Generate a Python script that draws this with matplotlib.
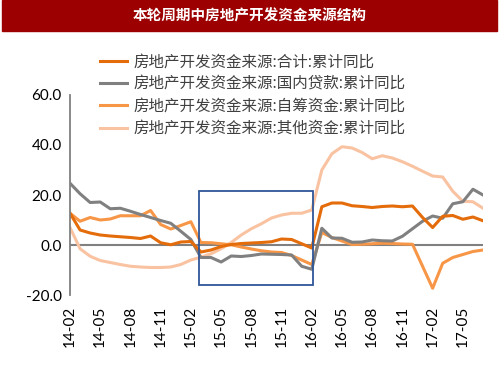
import matplotlib
matplotlib.use("Agg")
import matplotlib.pyplot as plt
from matplotlib.patches import Rectangle
import numpy as np

plt.rcParams['font.family'] = ['Noto Sans CJK SC', 'DejaVu Sans']

# months 14-02 .. 17-07
months = ['%02d-%02d' % (14 + (m + 1) // 12, (m + 1) % 12 + 1) for m in range(42)]

total = [12.7, 6.0, 4.8, 4.0, 3.6, 3.3, 3.0, 2.6, 3.6, 0.9, 0.1, 1.2, 1.4, -2.8,
         -2.0, -0.6, 0.2, 0.6, 0.8, 1.0, 1.3, 2.4, 2.2, 0.5, -1.2, 15.3, 16.8, 16.8,
         15.7, 15.4, 15.0, 15.4, 15.6, 15.3, 15.6, 11.0, 7.0, 11.5, 11.8, 10.3, 11.2, 9.7]
loans = [24.7, 20.5, 17.0, 17.2, 14.5, 14.7, 13.5, 12.2, 11.0, 9.8, 8.7, 5.5, 2.2, -5.0,
         -5.0, -6.8, -4.4, -4.6, -4.2, -3.6, -3.7, -3.8, -4.0, -8.5, -9.7, 6.7, 2.8, 2.7,
         1.1, 1.2, 2.0, 1.7, 1.6, 3.5, 6.5, 9.5, 11.6, 10.7, 16.5, 17.3, 22.3, 20.0]
self_raised = [12.7, 9.5, 11.0, 10.0, 10.4, 11.7, 11.7, 11.7, 13.8, 8.2, 6.4, 7.8, 9.3, 1.0,
               0.9, 0.5, 0.1, -0.8, -1.6, -2.3, -2.8, -3.0, -4.2, -6.0, -7.8, 5.0, 3.0, 1.6,
               0.2, 0.3, 0.5, 0.7, 0.6, 0.4, 0.3, -8.5, -17.3, -7.3, -5.0, -3.8, -2.6, -2.0]
other = [7.0, -1.5, -4.5, -6.2, -7.0, -7.8, -8.5, -8.8, -9.0, -9.0, -8.8, -7.8, -6.0, -4.9,
         -3.5, -1.5, 1.0, 4.0, 6.5, 8.5, 10.8, 12.0, 12.7, 12.7, 14.0, 30.0, 36.5, 39.3,
         38.8, 37.0, 34.5, 35.7, 34.8, 33.3, 31.5, 29.5, 27.6, 27.2, 21.5, 17.5, 17.3, 14.7]

labels = ['房地产开发资金来源:合计:累计同比',
          '房地产开发资金来源:国内贷款:累计同比',
          '房地产开发资金来源:自筹资金:累计同比',
          '房地产开发资金来源:其他资金:累计同比']
colors = ['#E46C0A', '#808080', '#F79646', '#F9C3A2']

fig = plt.figure(figsize=(5, 3.75), dpi=100)
ax = fig.add_axes([0.14, 0.2133, 0.826, 0.5334])

x = np.arange(len(months))
series = [total, loans, self_raised, other]
# draw back to front: other, self, loans, total on top
handles = [None] * 4
for k in [3, 2, 1, 0]:
    ln, = ax.plot(x, series[k], color=colors[k], lw=2.2, label=labels[k])
    handles[k] = ln

ax.axhline(0, color='#808080', lw=1.5, zorder=1)
ax.add_patch(Rectangle((12.8, -16), 11.3, 37.7, fill=False, ec='#2F5597', lw=1.3,
                       clip_on=False, zorder=5))

ax.set_xlim(0, 41)
ax.set_ylim(-20, 60)
ax.set_yticks([-20, 0, 20, 40, 60])
ax.set_yticklabels(['%.1f' % v for v in [-20, 0, 20, 40, 60]], family='Lato', fontsize=11)
ax.set_xticks(x[::3])
ax.set_xticklabels(months[::3], rotation=90, family='Lato', fontsize=11)
ax.tick_params(length=0, pad=6)
ax.tick_params(axis='x', pad=8)
for s in ['top', 'right', 'bottom']:
    ax.spines[s].set_visible(False)
ax.spines['left'].set_color('#808080')
ax.spines['left'].set_linewidth(1.3)

fig.legend(handles=handles, labels=labels, loc='upper left',
           bbox_to_anchor=(0.2, 0.857), frameon=False, fontsize=11.2,
           handlelength=1.75, handletextpad=0.4, labelspacing=0.33,
           borderpad=0, borderaxespad=0, labelcolor='#404040')

# title bar
fig.patches.append(Rectangle((0.004, 0.918), 0.99, 0.082, transform=fig.transFigure,
                             color='#9C0000', zorder=0))
fig.text(0.5, 0.958, '本轮周期中房地产开发资金来源结构', color='white', fontsize=10.5,
         fontweight='bold', ha='center', va='center')

fig.savefig('out.png', dpi=100)
